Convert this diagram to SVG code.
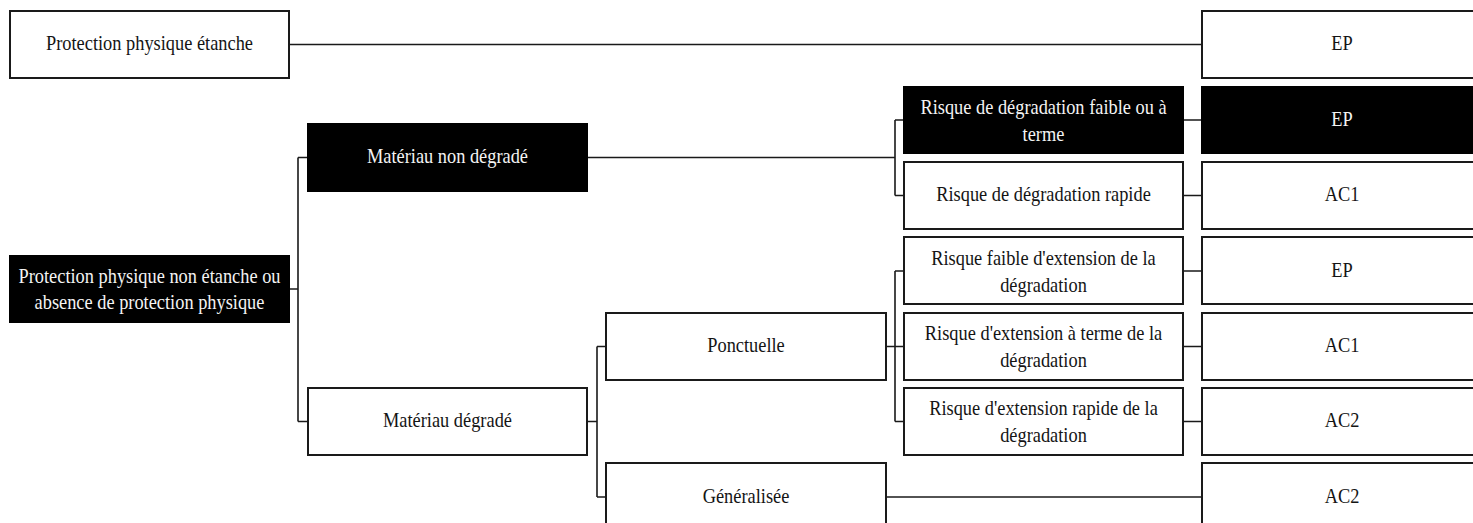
<svg xmlns="http://www.w3.org/2000/svg" width="1473" height="523" viewBox="0 0 1473 523">
<style>
.bw{fill:#ffffff;stroke:#1a1a1a;stroke-width:2}
.bb{fill:#000000;stroke:#000000;stroke-width:2}
.t{font-family:"Liberation Serif","Times New Roman",serif;font-size:22px;text-anchor:middle}
.tw{fill:#141414}
.tb{fill:#f4f4f4}
.c{fill:none;stroke:#1a1a1a;stroke-width:1.6}
</style>
<rect width="1473" height="523" fill="#ffffff"/>
<g id="connectors">
<path class="c" d="M289 44.5H1202"/>
<path class="c" d="M289 289H298M298 157.5V421.5M298 157.5H308M298 421.5H308"/>
<path class="c" d="M587 157.5H895M895 120V195.5M895 120H904M895 195.5H904"/>
<path class="c" d="M587 421.5H597M597 346.5V497M597 346.5H606M597 497H606"/>
<path class="c" d="M886 346.5H904M895 271V421.5M895 271H904M895 421.5H904"/>
<path class="c" d="M886 497H1202"/>
<path class="c" d="M1183 120H1202M1183 195.5H1202M1183 271H1202M1183 346.5H1202M1183 421.5H1202"/>
</g>
<g id="n-etanche">
<rect class="bw" x="10" y="11" width="279" height="67"/>
<text class="t tw" transform="translate(149.5 50) scale(0.835 1)">Protection physique étanche</text>
</g>
<g id="n-non-etanche">
<rect class="bb" x="10" y="256" width="279" height="66"/>
<text class="t tb" transform="translate(149.5 282.5) scale(0.835 1)">Protection physique non étanche ou</text>
<text class="t tb" transform="translate(149.5 309) scale(0.835 1)">absence de protection physique</text>
</g>
<g id="n-non-degrade">
<rect class="bb" x="308" y="124" width="279" height="67"/>
<text class="t tb" transform="translate(447.5 163) scale(0.835 1)">Matériau non dégradé</text>
</g>
<g id="n-degrade">
<rect class="bw" x="308" y="388" width="279" height="67"/>
<text class="t tw" transform="translate(447.5 427) scale(0.835 1)">Matériau dégradé</text>
</g>
<g id="n-ponctuelle">
<rect class="bw" x="606" y="313" width="280" height="67"/>
<text class="t tw" transform="translate(746 352) scale(0.835 1)">Ponctuelle</text>
</g>
<g id="n-generalisee">
<rect class="bw" x="606" y="463" width="280" height="70"/>
<text class="t tw" transform="translate(746 502.5) scale(0.835 1)">Généralisée</text>
</g>
<g id="n-risque-faible-terme">
<rect class="bb" x="904" y="87" width="279" height="66"/>
<text class="t tb" transform="translate(1043.5 113.5) scale(0.835 1)">Risque de dégradation faible ou à</text>
<text class="t tb" transform="translate(1043.5 140.5) scale(0.835 1)">terme</text>
</g>
<g id="n-risque-rapide">
<rect class="bw" x="904" y="162" width="279" height="67"/>
<text class="t tw" transform="translate(1043.5 201) scale(0.835 1)">Risque de dégradation rapide</text>
</g>
<g id="n-ext-faible">
<rect class="bw" x="904" y="237" width="279" height="67"/>
<text class="t tw" transform="translate(1043.5 264.5) scale(0.835 1)">Risque faible d'extension de la</text>
<text class="t tw" transform="translate(1043.5 291.5) scale(0.835 1)">dégradation</text>
</g>
<g id="n-ext-terme">
<rect class="bw" x="904" y="313" width="279" height="67"/>
<text class="t tw" transform="translate(1043.5 340) scale(0.835 1)">Risque d'extension à terme de la</text>
<text class="t tw" transform="translate(1043.5 367) scale(0.835 1)">dégradation</text>
</g>
<g id="n-ext-rapide">
<rect class="bw" x="904" y="388" width="279" height="67"/>
<text class="t tw" transform="translate(1043.5 415) scale(0.835 1)">Risque d'extension rapide de la</text>
<text class="t tw" transform="translate(1043.5 442) scale(0.835 1)">dégradation</text>
</g>
<g id="r-ep1">
<rect class="bw" x="1202" y="11" width="280" height="67"/>
<text class="t tw" transform="translate(1342 50) scale(0.835 1)">EP</text>
</g>
<g id="r-ep2">
<rect class="bb" x="1202" y="87" width="280" height="66"/>
<text class="t tb" transform="translate(1342 125.5) scale(0.835 1)">EP</text>
</g>
<g id="r-ac1a">
<rect class="bw" x="1202" y="162" width="280" height="67"/>
<text class="t tw" transform="translate(1342 201) scale(0.835 1)">AC1</text>
</g>
<g id="r-ep3">
<rect class="bw" x="1202" y="237" width="280" height="67"/>
<text class="t tw" transform="translate(1342 276.5) scale(0.835 1)">EP</text>
</g>
<g id="r-ac1b">
<rect class="bw" x="1202" y="313" width="280" height="67"/>
<text class="t tw" transform="translate(1342 352) scale(0.835 1)">AC1</text>
</g>
<g id="r-ac2a">
<rect class="bw" x="1202" y="388" width="280" height="67"/>
<text class="t tw" transform="translate(1342 427) scale(0.835 1)">AC2</text>
</g>
<g id="r-ac2b">
<rect class="bw" x="1202" y="463" width="280" height="70"/>
<text class="t tw" transform="translate(1342 502.5) scale(0.835 1)">AC2</text>
</g>
</svg>
